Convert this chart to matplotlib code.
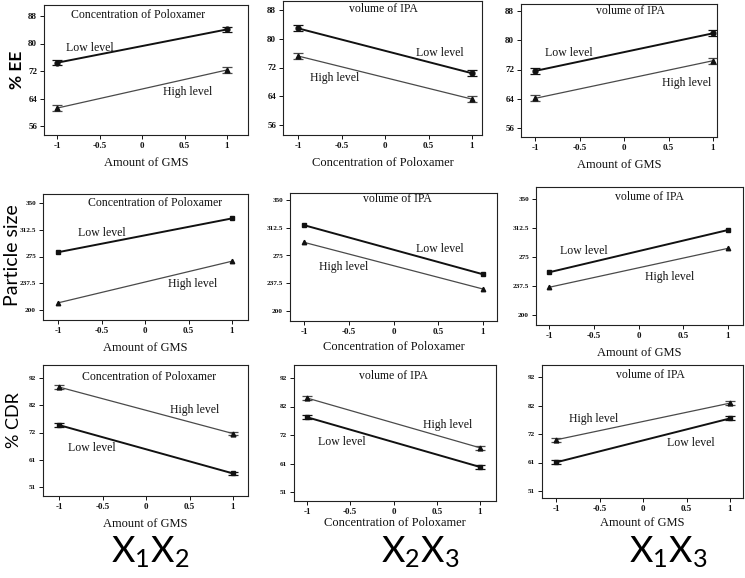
import matplotlib
matplotlib.use("Agg")
import matplotlib.pyplot as plt
import matplotlib.transforms as mtransforms

plt.rcParams['mathtext.fontset'] = 'custom'
plt.rcParams['mathtext.rm'] = 'Lato'
plt.rcParams['mathtext.it'] = 'Lato'

W, H = 745, 578
SERIF = 'Liberation Serif'
SANS = 'Lato'

# ---------------- data ----------------
levels_x = [-1, 1]
x_ticks = [-1, -0.5, 0, 0.5, 1]
x_tick_labels = ['-1', '-0.5', '0', '0.5', '1']

ee_ticks = [56, 64, 72, 80, 88]
ps_ticks = [200, 237.5, 275, 312.5, 350]
ps_tick_labels = ['200', '237.5', '275', '312.5', '350']
cdr_ticks = [51, 61.25, 71.5, 81.75, 92]
cdr_tick_labels = ['51', '61', '72', '82', '92']

# % EE
ee_x1x2_low = [74.4, 84.1]
ee_x1x2_high = [61.2, 72.3]
ee_x2x3_low = [82.9, 70.4]
ee_x2x3_high = [75.2, 63.2]
ee_x1x3_low = [71.6, 81.9]
ee_x1x3_high = [64.1, 74.4]
ee_err = [0.8, 0.8]

# Particle size
ps_x1x2_low = [281.0, 328.4]
ps_x1x2_high = [210.0, 268.4]
ps_x2x3_low = [316.0, 249.6]
ps_x2x3_high = [292.8, 229.7]
ps_x1x3_low = [255.2, 309.9]
ps_x1x3_high = [235.8, 286.2]

# % CDR
cdr_x1x2_low = [74.3, 56.1]
cdr_x1x2_high = [88.6, 71.1]
cdr_x2x3_low = [77.9, 60.0]
cdr_x2x3_high = [84.8, 66.9]
cdr_x1x3_low = [61.3, 77.1]
cdr_x1x3_high = [69.4, 82.6]
cdr_err = [0.7, 0.7]

titles = ['Concentration of Poloxamer', 'volume of IPA', 'volume of IPA']
xlabels = ['Amount of GMS', 'Concentration of Poloxamer', 'Amount of GMS']
row_labels = ['% EE', 'Particle size', '% CDR']
col_labels = [r'$\mathrm{X_1X_2}$', r'$\mathrm{X_2X_3}$', r'$\mathrm{X_1X_3}$']

# ---------------- layout (pixels) ----------------
# (left, right, top, bottom, x at -1, x at +1, y at top tick, y at bottom tick)
layout = [
    [(44, 248, 5, 135, 57, 227, 16, 126),
     (283, 482, 1, 135, 298, 472, 10, 125),
     (521, 717, 4, 137, 535, 713, 11, 128)],
    [(43, 248, 194, 320, 58, 232, 203, 310),
     (290, 497, 193, 321, 304, 483, 200, 311),
     (536, 743, 187, 325, 549, 728, 199, 315)],
    [(43, 248, 365, 496, 59, 233, 378, 487),
     (294, 496, 365, 501, 307, 480, 378, 492),
     (542, 743, 365, 498, 556, 730, 377, 491)],
]

row_data = [
    [(ee_x1x2_low, ee_x1x2_high), (ee_x2x3_low, ee_x2x3_high), (ee_x1x3_low, ee_x1x3_high)],
    [(ps_x1x2_low, ps_x1x2_high), (ps_x2x3_low, ps_x2x3_high), (ps_x1x3_low, ps_x1x3_high)],
    [(cdr_x1x2_low, cdr_x1x2_high), (cdr_x2x3_low, cdr_x2x3_high), (cdr_x1x3_low, cdr_x1x3_high)],
]
row_ticks = [(ee_ticks, [str(t) for t in ee_ticks]),
             (ps_ticks, ps_tick_labels),
             (cdr_ticks, cdr_tick_labels)]
row_err = [ee_err, None, cdr_err]
low_markers = ['o', 's', 's']

# text positions (data coords): (low_x, low_y, high_x, high_y, title_x)
text_pos = [
    [(-0.9, 78.7, 0.25, 65.9, -0.05), (0.36, 76.0, -0.86, 69.0, -0.02), (-0.89, 76.5, 0.43, 68.3, 0.07)],
    [(-0.77, 308, 0.27, 236, 0.11), (0.25, 283.8, -0.83, 259.5, 0.04), (-0.88, 282.7, 0.07, 249, 0.12)],
    [(-0.9, 65.7, 0.28, 80.0, 0.03), (-0.87, 69.0, 0.34, 75.1, 0.0), (0.28, 68.3, -0.85, 76.9, 0.08)],
]
title_y_px = [[15, 9, 11], [203, 199, 197], [377, 376, 375]]
xlabel_pad = [[5, 5, 5], [5, 4, 5], [5, 0.5, 3]]

fig = plt.figure(figsize=(W / 100, H / 100), dpi=100)

for r in range(3):
    ticks, tlabels = row_ticks[r]
    for c in range(3):
        l, rr, t, b, xm1, xp1, yhi, ylo = layout[r][c]
        ax = fig.add_axes([l / W, 1 - b / H, (rr - l) / W, (b - t) / H])
        ppu = (xp1 - xm1) / 2.0
        ax.set_xlim(-1 - (xm1 - l) / ppu, 1 + (rr - xp1) / ppu)
        vhi, vlo = ticks[-1], ticks[0]
        ppv = (ylo - yhi) / (vhi - vlo)
        ax.set_ylim(vlo - (b - ylo) / ppv, vhi + (yhi - t) / ppv)

        low, high = row_data[r][c]
        err = row_err[r]
        if err is not None:
            ax.errorbar(levels_x, low, yerr=err, color='#111111', lw=1.4,
                        marker=low_markers[r], ms=3.5, capsize=3.5, elinewidth=0.9,
                        capthick=0.9)
            ax.errorbar(levels_x, high, yerr=err, color='#4a4a4a', lw=0.9,
                        marker='^', ms=3.5, capsize=3.5, elinewidth=0.9,
                        capthick=0.9, mfc='#111111', mec='#111111')
        else:
            ax.plot(levels_x, low, color='#111111', lw=1.4, marker='s', ms=3.2)
            ax.plot(levels_x, high, color='#4a4a4a', lw=0.9, marker='^', ms=3.2,
                    mfc='#111111', mec='#111111')

        ax.set_xticks(x_ticks)
        ax.set_xticklabels(x_tick_labels, fontfamily=SERIF, fontweight='bold',
                           fontsize=6.5)
        ax.set_yticks(ticks)
        ax.set_yticklabels(tlabels, fontfamily=SERIF, fontweight='bold',
                           fontsize=6.5 if r == 0 else 5.2)
        ax.tick_params(direction='out', length=3, width=0.7, pad=2,
                       colors='#111111')
        for sp in ax.spines.values():
            sp.set_linewidth(0.8)
            sp.set_color('#222222')

        lx, ly, hx, hy, tx = text_pos[r][c]
        ax.text(lx, ly, 'Low level', fontfamily=SERIF, fontsize=8.5,
                ha='left', va='center', color='#111111')
        ax.text(hx, hy, 'High level', fontfamily=SERIF, fontsize=8.5,
                ha='left', va='center', color='#111111')
        trans = mtransforms.blended_transform_factory(ax.transData, ax.transAxes)
        ty = 1 - (title_y_px[r][c] - t) / (b - t)
        ax.text(tx, ty, titles[c], transform=trans, fontfamily=SERIF,
                fontsize=8.5, ha='center', va='center', color='#111111')
        ax.set_xlabel(xlabels[c], fontfamily=SERIF, fontsize=9,
                      labelpad=xlabel_pad[r][c], color='#111111')

# row labels
fig.text(17 / W, 1 - 70 / H, row_labels[0], rotation=90, fontfamily=SANS,
         fontweight='bold', fontsize=12.5, ha='center', va='center')
fig.text(12 / W, 1 - 255 / H, row_labels[1], rotation=90, fontfamily=SANS,
         fontsize=14, ha='center', va='center')
fig.text(14 / W, 1 - 420 / H, row_labels[2], rotation=90, fontfamily=SANS,
         fontsize=13, ha='center', va='center')

# column labels
for x_px, lab in zip([150, 420, 668], col_labels):
    fig.text(x_px / W, 1 - 552 / H, lab, fontsize=26, ha='center', va='center')

fig.savefig('out.png', dpi=100)
